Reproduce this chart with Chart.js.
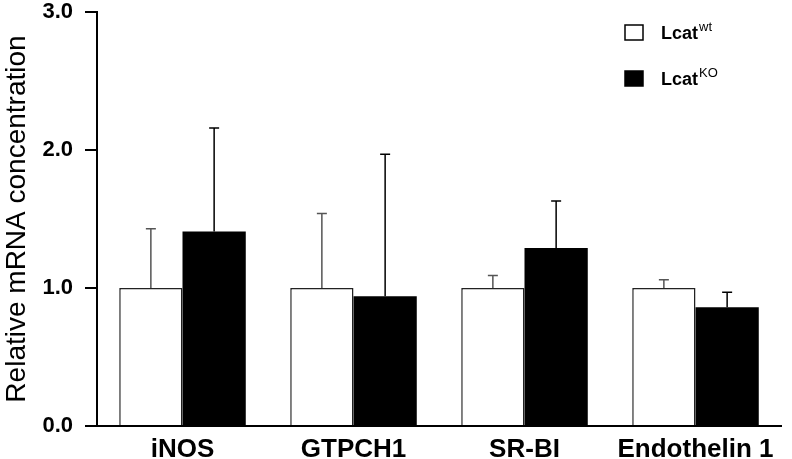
<!DOCTYPE html>
<html>
<head>
<meta charset="utf-8">
<script src="https://cdn.jsdelivr.net/npm/chart.js@4.4.0/dist/chart.umd.min.js"></script>
<style>
  html, body { margin: 0; padding: 0; background: #fff; overflow: hidden; }
  #wrap { width: 792px; height: 459px; }
</style>
</head>
<body>
<div id="wrap"><canvas id="barChart"></canvas></div>
<script>
// categories and values
const genes = ["iNOS", "GTPCH1", "SR-BI", "Endothelin 1"];
const wtValues = [1.0, 1.0, 1.0, 1.0];
const wtErrors = [0.43, 0.54, 0.09, 0.06];
const koValues = [1.41, 0.94, 1.29, 0.86];
const koErrors = [0.75, 1.03, 0.34, 0.11];
const yTicks = [0, 1, 2, 3];

// upper error bars only
const errorBars = {
    id: "errorBars",
    afterDatasetsDraw(chart) {
        const ctx = chart.ctx;
        const yScale = chart.scales.y;
        chart.data.datasets.forEach((ds, i) => {
            const meta = chart.getDatasetMeta(i);
            meta.data.forEach((bar, j) => {
                const top = yScale.getPixelForValue(ds.data[j] + ds.errors[j]);
                ctx.save();
                ctx.strokeStyle = ds.errorColor;
                ctx.lineWidth = 1.5;
                ctx.beginPath();
                ctx.moveTo(bar.x, bar.y);
                ctx.lineTo(bar.x, top);
                ctx.moveTo(bar.x - 5, top);
                ctx.lineTo(bar.x + 5, top);
                ctx.stroke();
                ctx.restore();
            });
        });
    }
};

// legend with superscripts
const supLegend = {
    id: "supLegend",
    afterDraw(chart) {
        const ctx = chart.ctx;
        const x = chart.chartArea.right - 156;
        const rows = [
            { y: 25, base: "Lcat", sup: "wt", ds: chart.data.datasets[0] },
            { y: 71, base: "Lcat", sup: "KO", ds: chart.data.datasets[1] }
        ];
        ctx.save();
        rows.forEach((r) => {
            ctx.fillStyle = r.ds.backgroundColor;
            ctx.fillRect(x, r.y, 18, 15);
            ctx.strokeStyle = "#000";
            ctx.lineWidth = 1.5;
            ctx.strokeRect(x, r.y, 18, 15);
            ctx.fillStyle = "#000";
            ctx.textBaseline = "alphabetic";
            ctx.font = "bold 18px 'Liberation Sans', Arial, sans-serif";
            ctx.fillText(r.base, x + 36, r.y + 14);
            const w = ctx.measureText(r.base).width;
            ctx.font = "13px 'Liberation Sans', Arial, sans-serif";
            ctx.fillText(r.sup, x + 37 + w, r.y + 6);
        });
        ctx.restore();
    }
};

new Chart(document.getElementById("barChart"), {
    type: "bar",
    data: {
        labels: genes,
        datasets: [
            {
                label: "Lcat wt",
                data: wtValues,
                errors: wtErrors,
                errorColor: "#555",
                backgroundColor: "#fff",
                borderColor: "#222",
                borderWidth: 1.5
            },
            {
                label: "Lcat KO",
                data: koValues,
                errors: koErrors,
                errorColor: "#000",
                backgroundColor: "#000",
                borderColor: "#000",
                borderWidth: 0
            }
        ]
    },
    options: {
        responsive: true,
        maintainAspectRatio: false,
        animation: false,
        devicePixelRatio: 1,
        layout: { padding: { top: 12, right: 11, bottom: 0, left: 0 } },
        datasets: { bar: { barPercentage: 1.0, categoryPercentage: 0.74 } },
        plugins: {
            legend: { display: false },
            tooltip: { enabled: false }
        },
        scales: {
            x: {
                grid: { display: false },
                border: { display: true, color: "#000", width: 2 },
                ticks: {
                    color: "#000",
                    padding: 3,
                    font: { family: "'Liberation Sans', Arial, sans-serif", size: 26, weight: "bold", lineHeight: 1.0 }
                },
                afterFit(scale) { scale.height = 33; scale.paddingLeft = 0; scale.paddingRight = 0; }
            },
            y: {
                min: 0,
                max: 3,
                afterBuildTicks(scale) { scale.ticks = yTicks.map((v) => ({ value: v })); },
                grid: { drawOnChartArea: false, drawTicks: true, tickLength: 12, color: "#000", lineWidth: 2 },
                border: { display: true, color: "#000", width: 2 },
                ticks: {
                    color: "#000",
                    padding: 12,
                    font: { family: "'Liberation Sans', Arial, sans-serif", size: 22, weight: "bold" },
                    callback: (v) => Number(v).toFixed(1)
                },
                title: {
                    display: true,
                    text: "Relative mRNA concentration",
                    color: "#000",
                    padding: 0,
                    font: { family: "'Liberation Sans', Arial, sans-serif", size: 28 }
                },
                afterFit(scale) { scale.width = 97; scale.paddingTop = 0; scale.paddingBottom = 0; }
            }
        }
    },
    plugins: [errorBars, supLegend]
});
</script>
</body>
</html>
